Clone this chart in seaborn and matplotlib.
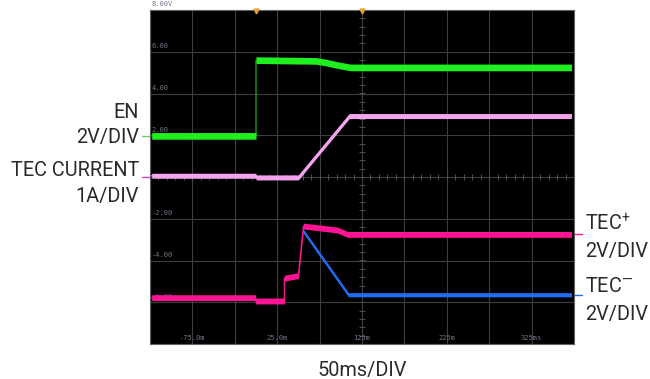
import numpy as np
import pandas as pd
import matplotlib
matplotlib.use('Agg')
import matplotlib.pyplot as plt
import seaborn as sns

# ---- data: time in ms, value in screen volts (2 V/div scale) ----
en_t = [-123, 0, 0, 71, 83, 95, 111, 372]
en_v = [1.97, 1.97, 5.6, 5.56, 5.48, 5.37, 5.25, 5.25]

cur_t = [-123, 0, 0, 50, 110, 372]
cur_v = [0.06, 0.06, -0.02, -0.02, 2.92, 2.92]

tecp_t = [-123, -0.5, -0.5, 33.5, 33.5, 50, 56, 96, 108, 372]
tecp_v = [-5.78, -5.78, -5.94, -5.94, -4.85, -4.72, -2.35, -2.54, -2.75, -2.75]

tecm_t = [56, 109, 372]
tecm_v = [-2.6, -5.64, -5.64]

trig_t = [0, 125]

ytick_vals = [8, 6, 4, 2, -2, -4, -6]
ytick_labels = ['8.00V', '6.00', '4.00', '2.00', '-2.00', '-4.00', '-6.00']
xtick_vals = [-75, 25, 125, 225, 325]
xtick_labels = ['-75.0m', '25.0m', '125m', '225m', '325ms']

left_refs = [1.97, -0.02]
right_refs = [-2.75, -5.64]

sns.set_style('white')
FONT = ['Roboto', 'DejaVu Sans']
plt.rcParams['font.family'] = FONT
plt.rcParams['mathtext.fontset'] = 'custom'
plt.rcParams['mathtext.rm'] = 'Roboto'
plt.rcParams['mathtext.default'] = 'regular'

W, H = 650, 379
fig = plt.figure(figsize=(6.5, 3.79), dpi=100)
fig.patch.set_facecolor('white')
ax = fig.add_axes([150 / W, 1 - 344 / H, 424 / W, 334 / H])
ax.set_facecolor('black')
ax.set_xlim(-125, 375)
ax.set_ylim(-8, 8)

# grid
ax.set_xticks(np.arange(-125, 376, 50))
ax.set_yticks(np.arange(-8, 9, 2))
ax.grid(True, color='#3e3e3e', linewidth=0.8)
ax.set_axisbelow(True)
ax.tick_params(length=0, labelbottom=False, labelleft=False)
for s in ax.spines.values():
    s.set_color('#606060')
    s.set_linewidth(0.8)

# center-line minor ticks
mt = np.arange(-125, 376, 10)
ax.plot(mt, np.zeros_like(mt), linestyle='none', marker='|', ms=4, color='#505050', mew=0.7, zorder=1)
mv = np.arange(-8, 8.01, 0.4)
ax.plot(np.full_like(mv, 125), mv, linestyle='none', marker='_', ms=4, color='#505050', mew=0.7, zorder=1)

# in-graticule labels
for v, lab in zip(ytick_vals, ytick_labels):
    col = '#4f6ab8' if lab == '-6.00' else '#74748a'
    ax.text(-123, v + 0.12, lab, fontsize=5, color=col, family='DejaVu Sans Mono',
            va='bottom', ha='left', zorder=2)
for t, lab in zip(xtick_vals, xtick_labels):
    ax.text(t, -7.85, lab, fontsize=5, color='#74748a', family='DejaVu Sans Mono',
            va='bottom', ha='center', zorder=2)


def trace(t, v, color, half, edge=None, z=3):
    df = pd.DataFrame({'t': t, 'v': v})
    ax.fill_between(df['t'], df['v'] - half, df['v'] + half, color=color, linewidth=0, zorder=z)
    sns.lineplot(data=df, x='t', y='v', ax=ax, color=edge or color, linewidth=1.0,
                 estimator=None, sort=False, zorder=z - 0.5)


trace(en_t, en_v, '#1ef01e', 0.16, edge='#169a16')
trace(cur_t, cur_v, '#f4a4ee', 0.12)
trace(tecp_t, tecp_v, '#ff1493', 0.14, z=4)
trace(tecm_t, tecm_v, '#1f6df0', 0.10, z=5)
ax.set_xlabel('')
ax.set_ylabel('')

# trigger markers
ax.plot(trig_t, [7.95] * len(trig_t), linestyle='none', marker='v', ms=3.5,
        color='#e8a030', clip_on=False, zorder=6)

# channel reference ticks
ytr = ax.get_yaxis_transform()
for v, c in zip(left_refs, ['#66cc66', '#e040c0']):
    ax.plot([-0.018, 0], [v, v], color=c, lw=1, transform=ytr, clip_on=False)
for v, c in zip(right_refs, ['#ff1493', '#1f6df0']):
    ax.plot([1.0, 1.018], [v, v], color=c, lw=1, transform=ytr, clip_on=False)

# labels
tc = '#2a2a2a'
fs = 14.3
def ftext(x, y, s, ha):
    fig.text(x / W, 1 - y / H, s, ha=ha, va='baseline', fontsize=fs, color=tc, family=FONT)

ftext(139, 118, 'EN', 'right')
ftext(139, 143, '2V/DIV', 'right')
ftext(139, 176, 'TEC CURRENT', 'right')
ftext(139, 202, '1A/DIV', 'right')
ftext(585, 230, 'TEC$^{+}$', 'left')
ftext(585, 257, '2V/DIV', 'left')
ftext(585, 292, 'TEC$^{\u2014}$', 'left')
ftext(585, 320, '2V/DIV', 'left')
fig.text(362 / W, 1 - 376 / H, '50ms/DIV', ha='center', va='baseline', fontsize=fs, color=tc, family=FONT)

fig.savefig('out.png', dpi=100)
